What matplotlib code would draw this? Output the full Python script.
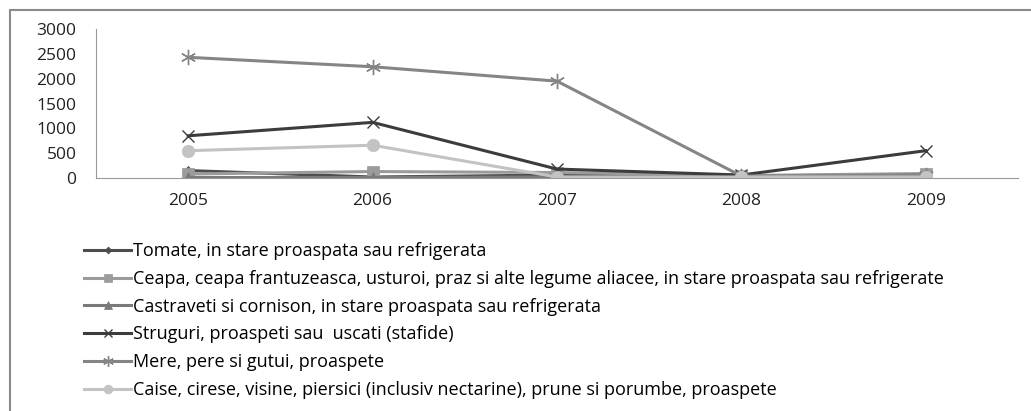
import matplotlib
matplotlib.use('Agg')
import matplotlib.pyplot as plt
from matplotlib.patches import Rectangle

years = ['2005', '2006', '2007', '2008', '2009']

tomate = [150, 20, 60, 40, 70]
ceapa = [80, 130, 110, 50, 90]
castraveti = [10, 10, 20, 20, 60]
struguri = [850, 1120, 180, 60, 550]
mere = [2430, 2240, 1950, 40, 60]
caise = [550, 660, 20, 20, 20]

labels = [
    'Tomate, in stare proaspata sau refrigerata',
    'Ceapa, ceapa frantuzeasca, usturoi, praz si alte legume aliacee, in stare proaspata sau refrigerate',
    'Castraveti si cornison, in stare proaspata sau refrigerata',
    'Struguri, proaspeti sau  uscati (stafide)',
    'Mere, pere si gutui, proaspete',
    'Caise, cirese, visine, piersici (inclusiv nectarine), prune si porumbe, proaspete',
]

plt.rcParams['font.family'] = ['Open Sans', 'DejaVu Sans']

W, H = 1031, 411
fig = plt.figure(figsize=(W / 100, H / 100), dpi=100)
ax = fig.add_axes([96 / W, 1 - 178 / H, (1018 - 96) / W, (178 - 29) / H])

x = list(range(len(years)))
series = [
    (tomate, '#4d4d4d', 'D', 5),
    (ceapa, '#9b9b9b', 's', 8),
    (castraveti, '#7a7a7a', '^', 8),
    (struguri, '#3c3c3c', 'x', 9),
    (mere, '#858585', (6, 2, 0), 11),
    (caise, '#c3c3c3', 'o', 9),
]
for (vals, col, mk, ms), lab in zip(series, labels):
    ax.plot(x, vals, color=col, marker=mk, markersize=ms, linewidth=2.2,
            markeredgewidth=1.0 if mk in ('x', (6, 2, 0)) else 0.5,
            markeredgecolor=col, label=lab)

ax.set_xlim(-0.5, 4.5)
ax.set_ylim(0, 3000)
ax.set_yticks(range(0, 3001, 500))
ax.set_xticks(x)
ax.set_xticklabels(years)
ax.tick_params(length=0, labelsize=12.5, colors='#222222')
ax.tick_params(axis='y', pad=14)
ax.tick_params(axis='x', pad=11)
for s in ('top', 'right'):
    ax.spines[s].set_visible(False)
for s in ('left', 'bottom'):
    ax.spines[s].set_color('#999999')
    ax.spines[s].set_linewidth(0.8)

fig.legend(loc='upper left', bbox_to_anchor=(77 / W, 1 - 235 / H),
           frameon=False, fontsize=13, handlelength=2.6, handletextpad=0.12,
           labelspacing=0.54, borderaxespad=0, markerscale=0.7)

fig.patches.append(Rectangle((10 / W, -0.1), 1.2, 1 - 10 / H + 0.1,
                             transform=fig.transFigure, fill=False,
                             edgecolor='#8a8a8a', linewidth=1.5))

fig.savefig('out.png', dpi=100)
